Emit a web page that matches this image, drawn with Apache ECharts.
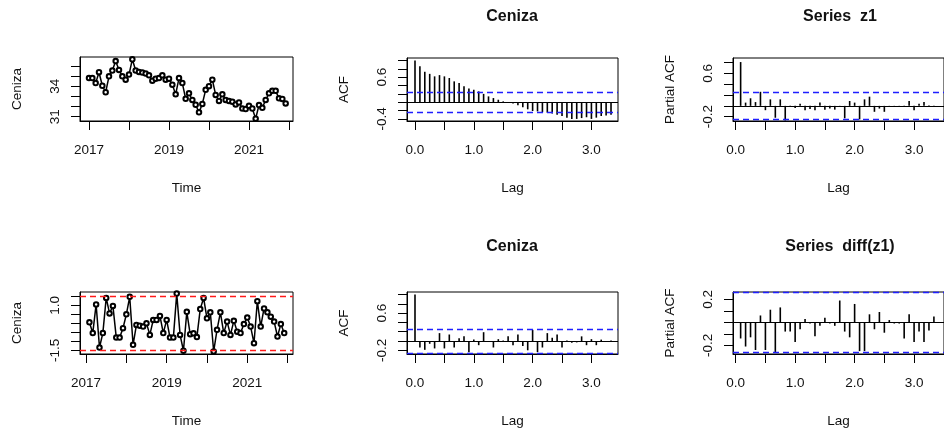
<!DOCTYPE html>
<html><head><meta charset="utf-8">
<script src="https://cdn.jsdelivr.net/npm/echarts@6/dist/echarts.min.js"></script>
<style>html,body{margin:0;padding:0;background:#fff}#c{width:944px;height:429px}</style>
</head><body><div id="c"></div><script>
// ---- data ----
const startYear = 2017; // monthly series, Jan 2017 .. Dec 2021
const cenizaLevels = [34.8, 34.8, 34.3, 35.37, 34.04, 33.4, 34.97, 35.54, 36.47, 35.6,
  34.97, 34.64, 35.14, 36.64, 35.54, 35.4, 35.34, 35.24, 35.07, 34.54,
  34.74, 34.8, 35.07, 34.64, 34.74, 34.14, 33.2, 34.8, 34.3, 32.75,
  33.3, 32.64, 32.17, 31.42, 32.25, 33.64, 34.0, 34.64, 33.14, 32.54,
  33.2, 32.64, 32.54, 32.47, 32.2, 32.4, 31.8, 31.74, 32.07, 31.8,
  30.8, 32.14, 31.87, 32.64, 33.3, 33.54, 33.54, 32.8, 32.74, 32.3];
// differenced series, Feb 2017 .. Dec 2021
const cenizaDiff = [0.06, -0.54, 1.05, -1.34, -0.54, 1.41, 0.55, 0.97, -0.79, -0.79,
  -0.27, 0.50, 1.47, -1.19, -0.09, -0.13, -0.18, 0.0, -0.64, 0.19,
  0.19, 0.41, -0.54, 0.19, -0.79, -0.79, 1.65, -0.64, -1.52, 0.64,
  -0.60, -0.55, -0.76, 0.79, 1.41, 0.28, 0.61, -1.56, -0.36, 0.61,
  -0.54, 0.10, -0.64, 0.14, -0.46, -0.54, -0.04, 0.32, -0.18, -1.10,
  1.23, -0.18, 0.83, 0.61, 0.37, 0.10, -0.73, -0.04, -0.54];
// ACF of levels, lags 0..40 (months)
const acfLevels = [1.0, 0.86, 0.73, 0.68, 0.62, 0.65, 0.62, 0.58, 0.50, 0.46,
  0.38, 0.33, 0.30, 0.26, 0.20, 0.14, 0.10, 0.06, 0.02, -0.01,
  -0.03, -0.07, -0.12, -0.17, -0.21, -0.22, -0.24, -0.25, -0.27, -0.30,
  -0.33, -0.37, -0.40, -0.40, -0.38, -0.36, -0.40, -0.37, -0.33, -0.32, -0.30];
// PACF of levels, lags 1..40
const pacfLevels = [0.81, 0.06, 0.14, 0.07, 0.26, -0.08, 0.12, -0.22, 0.12, -0.27,
  -0.02, -0.04, 0.04, -0.08, -0.06, -0.08, 0.06, -0.07, -0.05, -0.07,
  -0.02, -0.23, 0.09, 0.06, -0.25, 0.12, 0.17, -0.11, -0.05, -0.11,
  -0.02, -0.02, -0.01, -0.02, 0.09, -0.08, 0.04, 0.07, 0.01, -0.01];
// ACF of diff, lags 0..40
const acfDiff = [1.0, -0.14, -0.19, -0.06, -0.16, 0.17, -0.16, 0.14, -0.14, 0.06, 0.10,
  -0.24, 0.03, -0.09, 0.19, -0.01, -0.14, 0.04, 0.01, 0.10, -0.09,
  0.14, -0.11, -0.20, 0.24, -0.24, -0.14, 0.17, 0.07, 0.14, -0.14,
  0.01, -0.04, -0.03, 0.10, -0.09, 0.04, -0.09, 0.03, 0.0, 0.01];
// PACF of diff, lags 1..40
const pacfDiff = [-0.14, -0.21, -0.13, -0.24, 0.06, -0.24, 0.11, -0.26, 0.13, -0.08,
  -0.08, -0.17, -0.06, 0.03, -0.01, -0.12, -0.03, 0.04, -0.01, -0.03,
  0.19, -0.08, -0.13, 0.16, -0.25, -0.25, 0.07, -0.06, 0.09, -0.09,
  0.02, -0.01, -0.01, -0.14, 0.07, -0.17, -0.08, -0.17, -0.07, 0.05];
const ciLevels = 0.253;   // blue dashed bounds (n = 60)
const ciDiff = 0.255;     // blue dashed bounds (n = 59)
const diffLimit = 1.5;    // red dashed limits
const yearTicks = [2017, 2018, 2019, 2020, 2021, 2022];
const yearLabels = [2017, 2019, 2021];
const lagTicks = [0, 0.5, 1, 1.5, 2, 2.5, 3];
const lagLabels = [0, 1, 2, 3];
const titles = ['Ceniza', 'Series  z1', 'Ceniza', 'Series  diff(z1)'];

// ---- chart ----
const FONT = '"Liberation Sans", Arial, sans-serif';
const TXT = '#111';
const f1 = v => v.toFixed(1);
const fi = v => String(Math.round(v));

const grids = [
  {left: 80, top: 57, width: 213, height: 64},
  {left: 407, top: 58, width: 211, height: 63},
  {left: 733, top: 58, width: 215, height: 63},
  {left: 80, top: 292, width: 213, height: 62},
  {left: 407, top: 292, width: 211, height: 62},
  {left: 733, top: 292, width: 215, height: 62}
].map(g => Object.assign({show: true, borderColor: '#000', borderWidth: 1, backgroundColor: 'transparent', containLabel: false}, g));

function xAx(gi, min, max, ticks, labels, fmt, name) {
  return {type: 'value', gridIndex: gi, min, max, name, nameLocation: 'middle', nameGap: 60,
    nameTextStyle: {fontFamily: FONT, fontSize: 13.5, color: TXT},
    axisLine: {show: true, onZero: false, lineStyle: {color: '#000', width: 1}},
    axisTick: {show: true, length: 9, customValues: ticks, lineStyle: {color: '#000', width: 1}},
    axisLabel: {customValues: labels, formatter: fmt, margin: 22, fontFamily: FONT, fontSize: 13.5, color: TXT},
    splitLine: {show: false}};
}
function yAx(gi, min, max, ticks, labels, fmt, name) {
  return {type: 'value', gridIndex: gi, min, max, name, nameLocation: 'middle', nameGap: 56,
    nameTextStyle: {fontFamily: FONT, fontSize: 13.5, color: TXT},
    axisLine: {show: true, onZero: false, lineStyle: {color: '#000', width: 1}},
    axisTick: {show: true, length: 9, customValues: ticks, lineStyle: {color: '#000', width: 1}},
    axisLabel: {customValues: labels, formatter: fmt, rotate: 90, margin: 18, fontFamily: FONT, fontSize: 13.5, color: TXT},
    splitLine: {show: false}};
}

const blueDash = {color: '#1f1fff', type: [6, 4], width: 1.3};
function refLines(ci) {
  return {symbol: ['none', 'none'], silent: true, label: {show: false}, animation: false,
    data: [
      {yAxis: 0, lineStyle: {color: '#000', type: 'solid', width: 1}},
      {yAxis: ci, lineStyle: blueDash},
      {yAxis: -ci, lineStyle: blueDash}
    ]};
}
function barSeries(gi, values, firstLag, ci) {
  return {type: 'bar', xAxisIndex: gi, yAxisIndex: gi, barWidth: 1.6,
    itemStyle: {color: '#000'}, silent: true, animation: false,
    data: values.map((v, k) => [(k + firstLag) / 12, v]),
    markLine: refLines(ci)};
}
function lineSeries(gi, values, firstMonth, extra) {
  return Object.assign({type: 'line', xAxisIndex: gi, yAxisIndex: gi, animation: false, silent: true,
    symbol: 'emptyCircle', symbolSize: 4.5,
    lineStyle: {color: '#000', width: 1.5},
    itemStyle: {color: '#000', borderColor: '#000', borderWidth: 1.3},
    data: values.map((v, i) => [startYear + (i + firstMonth) / 12, v])}, extra || {});
}

const redDash = {color: '#ff1a1a', type: [6, 4], width: 1.3};

const option = {
  backgroundColor: '#fff',
  animation: false,
  title: [
    {text: titles[0], left: 512, top: 9},
    {text: titles[1], left: 840, top: 9},
    {text: titles[2], left: 512, top: 239},
    {text: titles[3], left: 840, top: 239}
  ].map(t => Object.assign({textAlign: 'center', padding: 0,
    textStyle: {fontFamily: FONT, fontWeight: 'bold', fontSize: 16, color: TXT}}, t)),
  grid: grids,
  xAxis: [
    xAx(0, 2016.775, 2022.1, yearTicks, yearLabels, fi, 'Time'),
    xAx(1, -0.136, 3.452, lagTicks, lagLabels, f1, 'Lag'),
    xAx(2, -0.045, 3.503, lagTicks, lagLabels, f1, 'Lag'),
    xAx(3, 2016.85, 2022.135, yearTicks, yearLabels, fi, 'Time'),
    xAx(4, -0.136, 3.452, lagTicks, lagLabels, f1, 'Lag'),
    xAx(5, -0.045, 3.503, lagTicks, lagLabels, f1, 'Lag')
  ],
  yAxis: [
    yAx(0, 30.57, 36.87, [31, 32, 33, 34, 35, 36], [31, 34], fi, 'Ceniza'),
    yAx(1, -0.45, 1.06, [-0.4, -0.2, 0, 0.2, 0.4, 0.6, 0.8, 1.0], [-0.4, 0.6], f1, 'ACF'),
    yAx(2, -0.28, 0.885, [-0.2, 0, 0.2, 0.4, 0.6, 0.8], [-0.2, 0.6], f1, 'Partial ACF'),
    yAx(3, -1.70, 1.74, [-1.5, -1, -0.5, 0, 0.5, 1, 1.5], [-1.5, 1.0], f1, 'Ceniza'),
    yAx(4, -0.28, 1.056, [-0.2, 0, 0.2, 0.4, 0.6, 0.8, 1.0], [-0.2, 0.6], f1, 'ACF'),
    yAx(5, -0.275, 0.264, [-0.2, -0.1, 0, 0.1, 0.2], [-0.2, 0.2], f1, 'Partial ACF')
  ],
  series: [
    lineSeries(0, cenizaLevels, 0),
    barSeries(1, acfLevels, 0, ciLevels),
    barSeries(2, pacfLevels, 1, ciLevels),
    lineSeries(3, cenizaDiff, 1, {markLine: {symbol: ['none', 'none'], silent: true, label: {show: false}, animation: false,
      data: [{yAxis: diffLimit, lineStyle: redDash}, {yAxis: -diffLimit, lineStyle: redDash}]}}),
    barSeries(4, acfDiff, 0, ciDiff),
    barSeries(5, pacfDiff, 1, ciDiff)
  ]
};
const chart = echarts.init(document.getElementById('c'), null, {renderer: 'canvas'});
chart.setOption(option);
</script></body></html>
